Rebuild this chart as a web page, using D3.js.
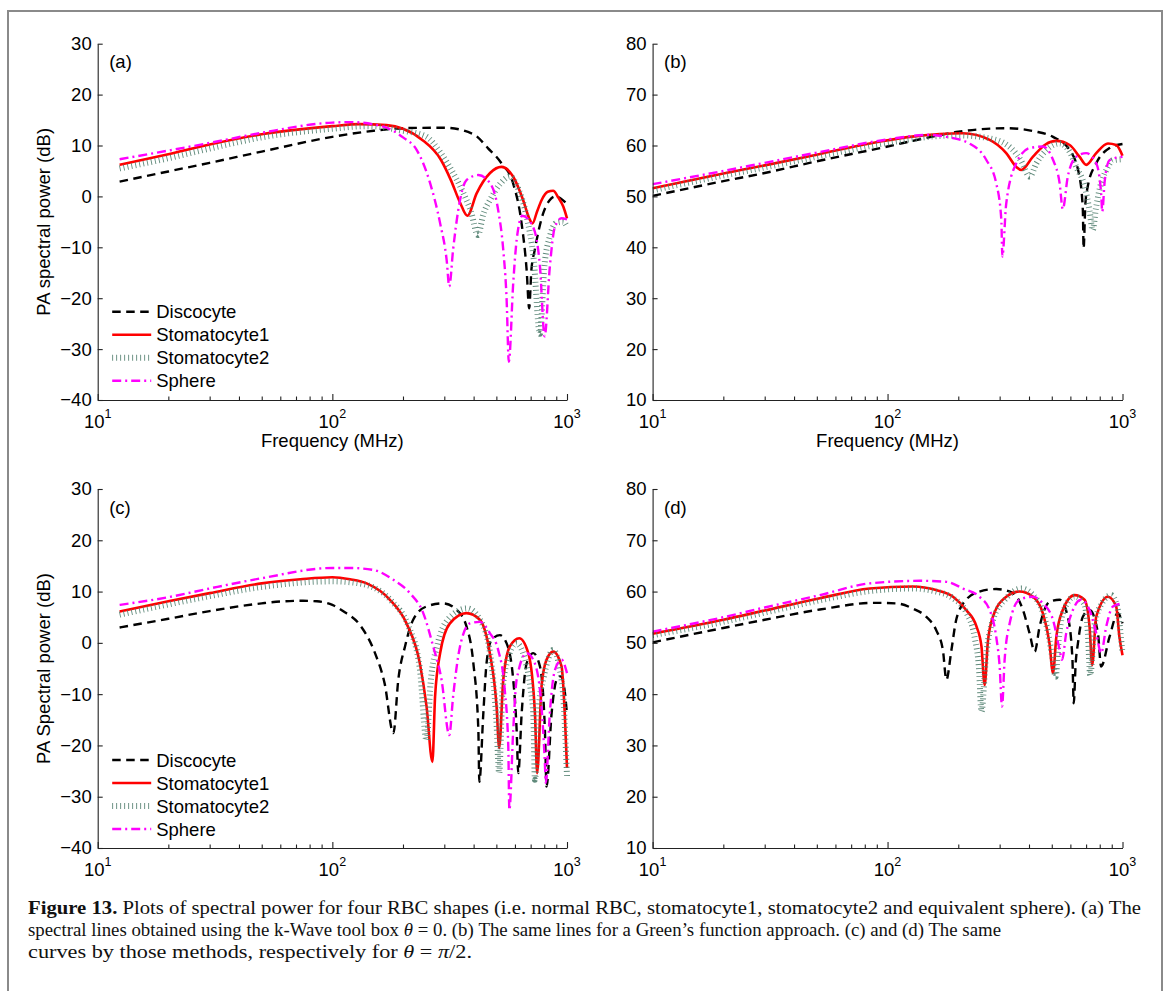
<!DOCTYPE html>
<html><head><meta charset="utf-8">
<script src="https://cdn.jsdelivr.net/npm/d3@7"></script>
<style>body{margin:0;background:#fff}svg{display:block}</style>
</head><body>
<svg id="fig" width="1168" height="991"></svg>
<script>
// ---------- DATA (frequency MHz, power dB) ----------
const seriesNames = ["Discocyte", "Stomatocyte1", "Stomatocyte2", "Sphere"];
const panelLabels = ["(a)", "(b)", "(c)", "(d)"];
const yLabels = ["PA spectral power (dB)", "", "PA Spectral power (dB)", ""];
const xLabel = "Frequency (MHz)";
const xMajorExps = [1, 2, 3];
const xMinorTicks = [20,30,40,50,60,70,80,90,200,300,400,500,600,700,800,900];
const yTicksAC = [-40,-30,-20,-10,0,10,20,30];
const yTicksBD = [10,20,30,40,50,60,70,80];

// (a) k-Wave, theta = 0
const discoA = [[12.4,2.9],[20,4.9],[30,6.6],[50,8.8],[100,11.7],[150,12.9],[200,13.4],[300,13.5],[400,12.2],[460,9.5],[526,6.5],[589,2.6],[640,-5.2],[673,-14.5],[690,-22],[705,-14.5],[729,-10.5],[792,-3.3],[845,-0.7],[890,0],[940,-0.4],[1000,-1.5]];
const stom1A = [[12.4,6.2],[20,8.3],[30,10.2],[50,12.2],[100,13.8],[130,14.2],[170,14],[200,13.3],[240,11.2],[290,7.2],[320,3.2],[350,-1.2],[376,-3.8],[412,0.6],[470,4.6],[526,5.8],[589,3.9],[650,-0.7],[690,-4.3],[713,-5.3],[745,-3],[780,-0.7],[828,0.9],[873,1.1],[920,-0.3],[964,-2],[1000,-4.3]];
const stom2A = [[12.4,5.5],[20,7.5],[30,9.4],[50,11.6],[100,13.3],[140,13.8],[200,12.9],[250,11.8],[290,8.5],[316,5.8],[362,0.6],[390,-3],[417,-7.6],[440,-3.5],[470,-0.7],[520,2.5],[570,3.9],[620,1.5],[673,-4],[720,-12],[767,-27],[800,-14],[845,-7.9],[900,-5.2],[964,-5],[1000,-6]];
const sphereA = [[12.4,7.3],[20,9],[30,10.5],[50,12.5],[100,14.5],[120,14.6],[165,13.7],[200,11.6],[229,9.1],[261,2.6],[288,-5.3],[307,-12.5],[315,-17.7],[327,-10.5],[344,-2.7],[373,3.2],[419,4.2],[470,2.6],[509,-2.7],[535,-10.5],[553,-20.3],[565,-32.5],[590,-17],[610,-8.6],[645,-3.8],[717,-6],[767,-13.8],[803,-27.5],[845,-13.8],[888,-6],[948,-4.3],[1000,-4.5]];

// (b) Green's function, theta = 0
const discoB = [[10,50.1],[20,53],[30,54.6],[50,56.9],[100,59.8],[150,61.6],[200,62.7],[320,63.4],[420,62.8],[506,61.7],[596,59.1],[656,53.9],[678,47.3],[683,39.8],[695,48.5],[711,51.9],[773,56.5],[881,59.5],[1000,60.3]];
const stom1B = [[10,51.6],[20,54.5],[30,56.1],[50,58.2],[93,60.8],[130,61.8],[209,62.4],[272,61.1],[320,58.5],[353,55.8],[371,55.2],[416,57.8],[470,60.2],[523,60.9],[596,60.1],[656,57.8],[701,56.2],[773,58.5],[867,60.4],[940,60.1],[1000,58]];
const stom2B = [[10,51.2],[20,54.1],[30,55.7],[50,57.8],[100,60.5],[150,61.7],[200,62],[272,61.4],[320,60.2],[342,59.1],[370,57],[403,53.9],[430,56.5],[474,59.1],[540,60.4],[600,58.5],[635,55.8],[690,52],[725,47],[747,43.4],[770,47.5],[798,51.3],[860,55.5],[910,57.1],[1000,57.3]];
const sphereB = [[10,52.4],[20,55],[30,56.6],[50,58.6],[100,61.2],[150,62.1],[178,61.7],[223,60.4],[263,57.2],[290,52.6],[305,45.4],[308,38.2],[320,48.6],[353,56.5],[403,59.5],[458,59.8],[506,57.2],[540,52.6],[557,47.5],[585,53.9],[635,57.8],[701,58.5],[773,56.5],[811,50.6],[820,47],[840,53],[881,57.1],[1000,57.8]];

// (c) k-Wave, theta = pi/2
const discoC = [[12.4,3],[20,4.7],[30,6.2],[50,7.7],[62,8.1],[75,8.2],[86,8.1],[100,7.4],[111,6.2],[131,3.5],[152,-2],[167,-7.9],[182,-17.6],[191,-7.2],[204,-0.7],[221,4.5],[252,7.1],[297,7.7],[339,6.4],[373,3.2],[399,-4],[419,-17],[423,-27.1],[440,-13.7],[454,-4],[477,0.6],[518,1.5],[553,-0.1],[590,-7.2],[610,-17],[620,-25.4],[641,-13.7],[673,-4],[718,-2],[767,-4.6],[805,-17],[818,-28],[860,-13.7],[903,-7.2],[940,-6.5],[975,-9],[1000,-14]];
const stom1C = [[12.4,6.1],[20,8.1],[30,9.7],[50,11.6],[73,12.4],[100,12.8],[119,12.4],[140,11.6],[176,8.4],[207,3.8],[236,-4],[252,-12.4],[267,-23.2],[274,-10.5],[288,-2],[317,3.8],[373,5.8],[425,4.5],[469,-2],[501,-12.4],[514,-20.5],[535,-7.2],[571,-0.7],[626,0.9],[684,-2],[730,-13.7],[746,-25.4],[779,-8.5],[818,-3.3],[874,-1.7],[948,-4.6],[978,-13.7],[1000,-24.4]];
const stom2C = [[12.4,5.5],[20,7.5],[30,9.1],[50,10.9],[100,12],[120,11.8],[150,10.8],[180,8],[210,3.5],[236,-5],[252,-19],[262,-8],[280,-0.5],[310,4.5],[375,6.7],[430,4.2],[470,-2],[485,-7.2],[500,-15],[514,-25.4],[530,-10],[553,-4],[610,-0.1],[660,-3],[700,-9],[718,-13.7],[730,-26.7],[760,-12],[792,-7.2],[874,-1.4],[930,-5],[964,-10.5],[1000,-26]];
const sphereC = [[12.4,7.4],[20,8.9],[30,10.6],[50,12.6],[100,14.6],[120,14.6],[150,14.2],[182,12.3],[214,9.7],[244,5.8],[269,-0.7],[292,-7.2],[315,-18],[327,-10.5],[350,-0.7],[386,3.8],[425,4.1],[469,1.9],[509,-1.4],[543,-9.2],[562,-20.2],[568,-32.6],[590,-17],[610,-7.2],[673,-2],[718,-3.3],[767,-9.2],[805,-23.5],[812,-27.3],[845,-13.7],[888,-5.3],[948,-3.3],[1000,-5.9]];

// (d) Green's function, theta = pi/2
const discoD = [[10,50.1],[20,52.9],[30,54.5],[51.5,56.5],[88,57.8],[109,57.7],[128,56.7],[146,55.1],[161,52.5],[172,48.6],[178,42.8],[187,48.6],[196,54.5],[216,58.4],[246,60],[290,60.5],[342,59.7],[377,56.4],[402,51.9],[423,48.3],[444,53.2],[489,58],[540,58.4],[585,55.1],[612,47],[620,38.2],[632,46],[646,49.9],[678,55.1],[724,56.4],[786,51.9],[811,45.4],[881,51.2],[955,55.8],[1000,53.8]];
const stom1D = [[10,51.8],[20,54.5],[30,56.3],[51.5,58.7],[84,60.6],[128,61],[161,60.3],[190,59],[216,56.4],[239,53.2],[251,49.3],[259,41.8],[267,50],[281,55.1],[320,59],[364,60],[416,59],[458,55.8],[489,49.9],[506,44.1],[523,51.2],[557,56.4],[625,59.3],[689,58.4],[724,53.2],[743,45.7],[773,55.1],[867,59],[940,57.1],[970,51.2],[1000,47.6]];
const stom2D = [[10,51.5],[20,54.1],[30,55.9],[51.5,58.3],[84,60.1],[128,60.6],[161,60],[190,58.7],[216,56],[235,51],[245,45],[251,36.6],[262,47],[281,54.5],[320,58.7],[371,60.6],[416,59.3],[458,56],[489,50.5],[505,46.5],[519,43.4],[535,50.5],[557,55.8],[625,59],[689,57.5],[712,52],[729,43.7],[760,53.5],[820,57.8],[895,59.3],[950,57],[980,52],[1000,48]];
const sphereD = [[10,52.2],[20,55],[30,56.9],[51.5,59.3],[84,61.6],[137,62.1],[178,61.9],[209,60.6],[246,59],[272,56.4],[290,51.2],[300,45.4],[307,37.6],[315,46.7],[331,53.8],[364,58.4],[416,59],[458,57.7],[506,54.5],[540,48.6],[553,46.7],[576,51.9],[615,56.4],[666,58.4],[724,56.4],[773,51.9],[811,48],[853,53.2],[910,57.1],[1000,57.7]];

const panelSeries = [
  [discoA, stom1A, stom2A, sphereA],
  [discoB, stom1B, stom2B, sphereB],
  [discoC, stom1C, stom2C, sphereC],
  [discoD, stom1D, stom2D, sphereD]
];

// ---------- LAYOUT / STYLE ----------
const svg = d3.select("#fig");
const FONT = "'Liberation Sans', Arial, Helvetica, sans-serif";
const FS = 18.5;
const styles = [
  {color:"#000000", width:2.4, dash:"8.5,5.5", op:1},
  {color:"#ff0000", width:2.6, dash:null, op:1},
  {color:"#4f7d6d", width:6,   dash:"0.9,3.1", op:0.9},
  {color:"#ff00ff", width:2.4, dash:"9,4,2,4", op:1}
];
const boxes = [
  {l:97.7, r:567,    t:43.7, b:400, yd:[-40,30], yt:yTicksAC, legend:true,  xlab:true,  legTop:268},
  {l:652.6, r:1122.5, t:43.7, b:400, yd:[10,80],  yt:yTicksBD, legend:false, xlab:true},
  {l:97.7, r:567,    t:489,  b:848, yd:[-40,30], yt:yTicksAC, legend:true,  xlab:false, legTop:271},
  {l:652.6, r:1122.5, t:489,  b:848, yd:[10,80],  yt:yTicksBD, legend:false, xlab:false}
];

// border
svg.append("rect").attr("x",8).attr("y",11).attr("width",1154).attr("height",1010)
  .attr("fill","none").attr("stroke","#8a8a8a").attr("stroke-width",2);

boxes.forEach((bx, pi) => {
  const x = d3.scaleLog().domain([10,1000]).range([bx.l, bx.r]);
  const y = d3.scaleLinear().domain(bx.yd).range([bx.b, bx.t]);
  const g = svg.append("g");

  // curves
  const clipId = "clip"+pi;
  svg.append("clipPath").attr("id",clipId).append("rect")
    .attr("x",bx.l).attr("y",bx.t-2).attr("width",bx.r-bx.l+3).attr("height",bx.b-bx.t+2);
  const line = d3.line().x(d=>x(d[0])).y(d=>y(d[1])).curve(d3.curveMonotoneX);
  const cg = g.append("g").attr("clip-path",`url(#${clipId})`);
  panelSeries[pi].forEach((ser, si) => {
    const st = styles[si];
    cg.append("path").attr("d", line(ser)).attr("fill","none")
      .attr("stroke", st.color).attr("stroke-width", st.width).attr("stroke-opacity", st.op)
      .attr("stroke-dasharray", st.dash).attr("stroke-linejoin","round");
  });

  // axes
  const ax = g.append("g").attr("transform",`translate(0,${bx.b})`)
    .call(d3.axisBottom(x).tickValues(xMajorExps.map(e=>Math.pow(10,e))).tickSizeInner(-6).tickSizeOuter(0).tickFormat(""));
  const axm = g.append("g").attr("transform",`translate(0,${bx.b})`)
    .call(d3.axisBottom(x).tickValues(xMinorTicks).tickSizeInner(-3.5).tickSizeOuter(0).tickFormat(""));
  axm.select(".domain").remove();
  const ay = g.append("g").attr("transform",`translate(${bx.l},0)`)
    .call(d3.axisLeft(y).tickValues(bx.yt).tickSizeInner(-5).tickSizeOuter(0).tickPadding(6));
  [ax, axm, ay].forEach(a => {
    a.selectAll("path,line").attr("stroke","#222").attr("stroke-width",1.1);
  });
  ay.selectAll("text").attr("font-family",FONT).attr("font-size",FS).attr("fill","#000");

  // x tick labels 10^n
  xMajorExps.forEach(e => {
    const t = g.append("text").attr("x", x(Math.pow(10,e))).attr("y", bx.b+28)
      .attr("text-anchor","middle").attr("font-family",FONT).attr("font-size",FS).attr("fill","#000");
    t.append("tspan").text("10");
    t.append("tspan").attr("dy",-10).attr("font-size",12.5).text(String(e));
  });

  // x label
  if (bx.xlab) {
    g.append("text").attr("x",(bx.l+bx.r)/2).attr("y",bx.b+47).attr("text-anchor","middle")
      .attr("font-family",FONT).attr("font-size",FS).text(xLabel);
  }
  // y label
  if (yLabels[pi]) {
    g.append("text").attr("transform",`translate(50,${(bx.t+bx.b)/2}) rotate(-90)`)
      .attr("text-anchor","middle").attr("font-family",FONT).attr("font-size",FS).text(yLabels[pi]);
  }
  // panel label
  g.append("text").attr("x",bx.l+11.5).attr("y",bx.t+24.5).attr("font-family",FONT)
    .attr("font-size",FS).text(panelLabels[pi]);

  // legend
  if (bx.legend) {
    seriesNames.forEach((nm, si) => {
      const yy = bx.t + bx.legTop + si*23;
      const st = styles[si];
      g.append("line").attr("x1",bx.l+14.5).attr("x2",bx.l+53.5).attr("y1",yy).attr("y2",yy)
        .attr("stroke",st.color).attr("stroke-width",st.width).attr("stroke-opacity",st.op)
        .attr("stroke-dasharray",st.dash);
      g.append("text").attr("x",bx.l+58.5).attr("y",yy+6.5).attr("font-family",FONT)
        .attr("font-size",FS).text(nm);
    });
  }
});

// caption
const SERIF = "'Liberation Serif', 'Times New Roman', serif";
const cap = svg.append("g").attr("font-family",SERIF).attr("font-size",18).attr("fill","#111");
const l1 = cap.append("text").attr("x",28).attr("y",914).attr("textLength",1113).attr("lengthAdjust","spacingAndGlyphs");
l1.append("tspan").attr("font-weight","bold").text("Figure 13.");
l1.append("tspan").text(" Plots of spectral power for four RBC shapes (i.e. normal RBC, stomatocyte1, stomatocyte2 and equivalent sphere). (a) The");
const l2 = cap.append("text").attr("x",28).attr("y",936).attr("textLength",973).attr("lengthAdjust","spacingAndGlyphs");
l2.append("tspan").text("spectral lines obtained using the k-Wave tool box ");
l2.append("tspan").attr("font-style","italic").text("θ");
l2.append("tspan").text(" = 0. (b) The same lines for a Green’s function approach. (c) and (d) The same");
const l3 = cap.append("text").attr("x",28).attr("y",958).attr("textLength",444).attr("lengthAdjust","spacingAndGlyphs");
l3.append("tspan").text("curves by those methods, respectively for ");
l3.append("tspan").attr("font-style","italic").text("θ");
l3.append("tspan").text(" = ");
l3.append("tspan").attr("font-style","italic").text("π");
l3.append("tspan").text("/2.");
</script>
</body></html>
